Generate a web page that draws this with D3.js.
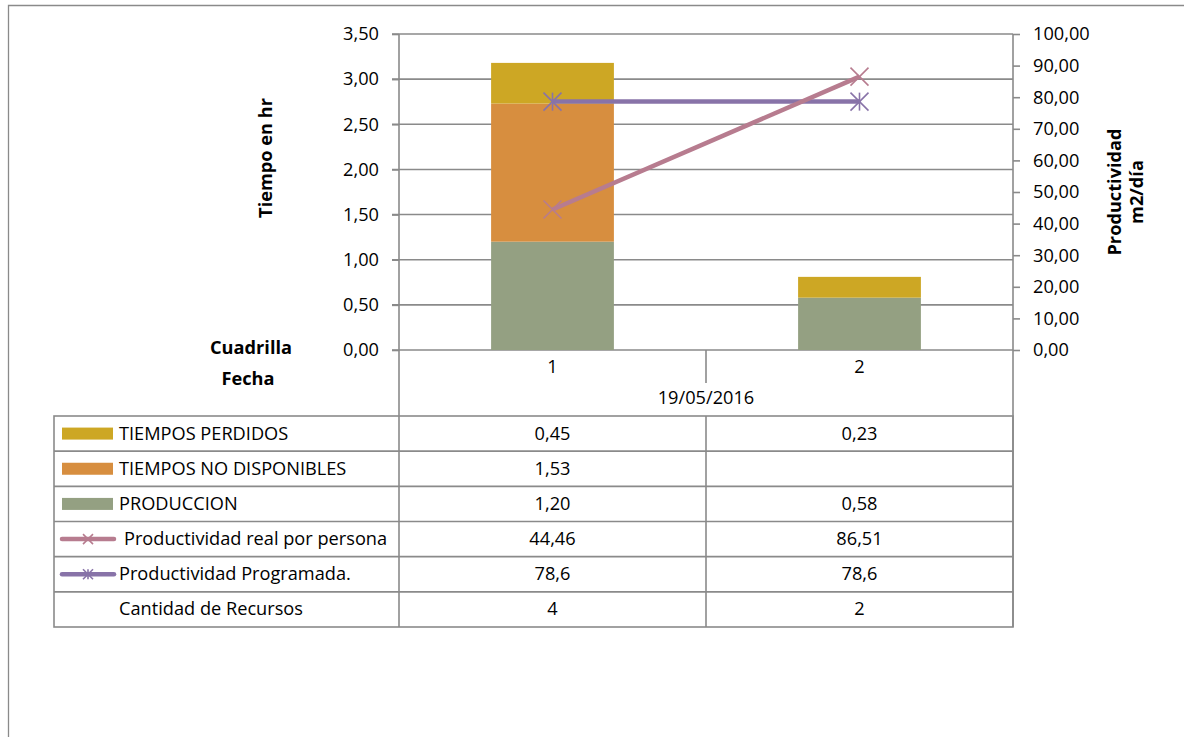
<!DOCTYPE html>
<html><head><meta charset="utf-8">
<script src="https://cdn.jsdelivr.net/npm/d3@7"></script>
<style>
body{margin:0;background:#fff;}
svg text{font-family:"Open Sans","Noto Sans",sans-serif;fill:#000;}
</style></head>
<body><svg id="c" width="1184" height="737"></svg>
<script>
const categories = ["1", "2"];
const dateLabel = "19/05/2016";
const tiemposPerdidos = [0.45, 0.23];
const tiemposNoDisponibles = [1.53, null];
const produccion = [1.20, 0.58];
const prodReal = [44.46, 86.51];
const prodProgramada = [78.6, 78.6];
const recursos = [4, 2];
const leftTicks = [0, 0.5, 1, 1.5, 2, 2.5, 3, 3.5];
const rightTicks = [0, 10, 20, 30, 40, 50, 60, 70, 80, 90, 100];
const seriesNames = ["TIEMPOS PERDIDOS", "TIEMPOS NO DISPONIBLES", "PRODUCCION", "Productividad real por persona", "Productividad Programada.", "Cantidad de Recursos"];

const colors = {perd:"#CDA724", nodisp:"#D78E3F", prod:"#94A082", real:"#B77C8F", prog:"#8873A8"};
const gridC = "#8a8a8a";
const FS = 18.2;

const loc = d3.formatLocale({decimal:",", thousands:".", grouping:[3], currency:["",""]});
const f2 = loc.format(".2f"), f1 = loc.format(".1f"), fd = loc.format("d");

const svg = d3.select("#c");
const L = 399, R = 1013, T = 34, B = 350;

const x = d3.scaleBand().domain(categories).range([L, R]).paddingInner(0).paddingOuter(0);
const yL = d3.scaleLinear().domain([0, 3.5]).range([B, T]);
const yR = d3.scaleLinear().domain([0, 100]).range([B, T]);

// outer frame
svg.append("path").attr("d", `M8.5,737 V5.5 H1184`).attr("fill","none").attr("stroke","#8a8a8a").attr("stroke-width",1.3);

// gridlines
svg.append("g").selectAll("line").data(leftTicks).join("line")
  .attr("x1", L-7).attr("x2", R).attr("y1", d=>yL(d)).attr("y2", d=>yL(d))
  .attr("stroke", gridC).attr("stroke-width", 1.6);

// left axis
const gL = svg.append("g").attr("transform", `translate(${L},0)`)
  .call(d3.axisLeft(yL).tickValues(leftTicks).tickFormat(f2).tickSize(7).tickPadding(13));
gL.select(".domain").remove();
gL.selectAll("line").attr("stroke", gridC).attr("stroke-width",1.6);
gL.selectAll("text").attr("font-size", FS);
svg.append("line").attr("x1",L).attr("x2",L).attr("y1",T).attr("y2",627).attr("stroke",gridC).attr("stroke-width",1.6);

// right axis
const gR = svg.append("g").attr("transform", `translate(${R},0)`)
  .call(d3.axisRight(yR).tickValues(rightTicks).tickFormat(f2).tickSize(7).tickPadding(13));
gR.select(".domain").remove();
gR.selectAll("line").attr("stroke", gridC).attr("stroke-width",1.6);
gR.selectAll("text").attr("font-size", FS);
svg.append("line").attr("x1",R).attr("x2",R).attr("y1",T).attr("y2",627).attr("stroke",gridC).attr("stroke-width",1.6);

// axis titles
svg.append("text").attr("transform", `translate(272,158) rotate(-90)`).attr("text-anchor","middle")
  .attr("font-size",FS).attr("font-weight","bold").text("Tiempo en hr");
const tR = svg.append("text").attr("transform", `translate(1121,192) rotate(-90)`).attr("text-anchor","middle")
  .attr("font-size",FS).attr("font-weight","bold");
tR.append("tspan").attr("x",0).attr("dy",0).text("Productividad");
tR.append("tspan").attr("x",0).attr("dy",22).text("m2/día");

// stacked bars
const stackData = categories.map((c,i)=>({cat:c, prod:produccion[i], nodisp:tiemposNoDisponibles[i]||0, perd:tiemposPerdidos[i]}));
const stack = d3.stack().keys(["prod","nodisp","perd"])(stackData);
const bw = x.bandwidth()*0.4;
svg.append("g").selectAll("g").data(stack).join("g").attr("fill", d=>colors[d.key])
  .selectAll("rect").data(d=>d).join("rect")
  .attr("x", d=>x(d.data.cat)+x.bandwidth()/2-bw/2).attr("width", bw)
  .attr("y", d=>yL(d[1])).attr("height", d=>yL(d[0])-yL(d[1]));

// lines
const cx = c => x(c)+x.bandwidth()/2;
function marker(g, px, py, color, star, s=9){
  g.append("line").attr("x1",px-s).attr("x2",px+s).attr("y1",py-s).attr("y2",py+s).attr("stroke",color).attr("stroke-width",1.6);
  g.append("line").attr("x1",px-s).attr("x2",px+s).attr("y1",py+s).attr("y2",py-s).attr("stroke",color).attr("stroke-width",1.6);
  if(star) g.append("line").attr("x1",px).attr("x2",px).attr("y1",py-s).attr("y2",py+s).attr("stroke",color).attr("stroke-width",1.6);
}
const line = d3.line().x(d=>cx(d.c)).y(d=>yR(d.v));
const realPts = categories.map((c,i)=>({c, v:prodReal[i]}));
const progPts = categories.map((c,i)=>({c, v:prodProgramada[i]}));
const gLines = svg.append("g");
gLines.append("path").attr("d", line(progPts)).attr("fill","none").attr("stroke",colors.prog).attr("stroke-width",4.5);
progPts.forEach(p=>marker(gLines, cx(p.c), yR(p.v), colors.prog, true));
gLines.append("path").attr("d", line(realPts)).attr("fill","none").attr("stroke",colors.real).attr("stroke-width",4.5);
realPts.forEach(p=>marker(gLines, cx(p.c), yR(p.v), colors.real, false));

// x axis categories
svg.append("g").selectAll("text").data(categories).join("text")
  .attr("x", d=>cx(d)).attr("y", 373).attr("text-anchor","middle").attr("font-size",FS).text(d=>d);
svg.append("line").attr("x1",(L+R)/2).attr("x2",(L+R)/2).attr("y1",B).attr("y2",383).attr("stroke",gridC).attr("stroke-width",1.6);
svg.append("text").attr("x",(L+R)/2).attr("y",404).attr("text-anchor","middle").attr("font-size",FS).text(dateLabel);
svg.append("text").attr("x",251).attr("y",354).attr("text-anchor","middle").attr("font-size",FS).attr("font-weight","bold").text("Cuadrilla");
svg.append("text").attr("x",248).attr("y",385).attr("text-anchor","middle").attr("font-size",FS).attr("font-weight","bold").text("Fecha");

// data table
const rowY = d3.scaleBand().domain(d3.range(6)).range([416, 627]);
const tableRows = [
  tiemposPerdidos.map(v=>v==null?"":f2(v)),
  tiemposNoDisponibles.map(v=>v==null?"":f2(v)),
  produccion.map(v=>v==null?"":f2(v)),
  prodReal.map(v=>f2(v)),
  prodProgramada.map(v=>f1(v)),
  recursos.map(v=>fd(v))
];
const tg = svg.append("g");
tg.append("rect").attr("x",54).attr("y",416).attr("width",R-54).attr("height",627-416).attr("fill","none").attr("stroke",gridC).attr("stroke-width",1.6);
d3.range(1,6).forEach(i=>tg.append("line").attr("x1",54).attr("x2",R).attr("y1",rowY(i)).attr("y2",rowY(i)).attr("stroke",gridC).attr("stroke-width",1.6));
tg.append("line").attr("x1",(L+R)/2).attr("x2",(L+R)/2).attr("y1",416).attr("y2",627).attr("stroke",gridC).attr("stroke-width",1.6);

tableRows.forEach((row,i)=>{
  const yc = rowY(i)+rowY.bandwidth()/2;
  row.forEach((s,j)=>tg.append("text").attr("x",cx(categories[j])).attr("y",yc+6).attr("text-anchor","middle").attr("font-size",FS).text(s));
  const tx = i===3 ? 124 : 119;
  tg.append("text").attr("x",tx).attr("y",yc+6).attr("font-size",FS).text(seriesNames[i]);
  if(i<3){
    const col = [colors.perd, colors.nodisp, colors.prod][i];
    tg.append("rect").attr("x",62).attr("y",yc-6).attr("width",51).attr("height",12).attr("fill",col);
  } else if(i<5){
    const col = i===3?colors.real:colors.prog;
    tg.append("line").attr("x1",62).attr("x2",114).attr("y1",yc).attr("y2",yc).attr("stroke",col).attr("stroke-width",4.5).attr("stroke-linecap","round");
    marker(tg, 88, yc, col, i===4, 5);
  }
});
</script></body></html>
